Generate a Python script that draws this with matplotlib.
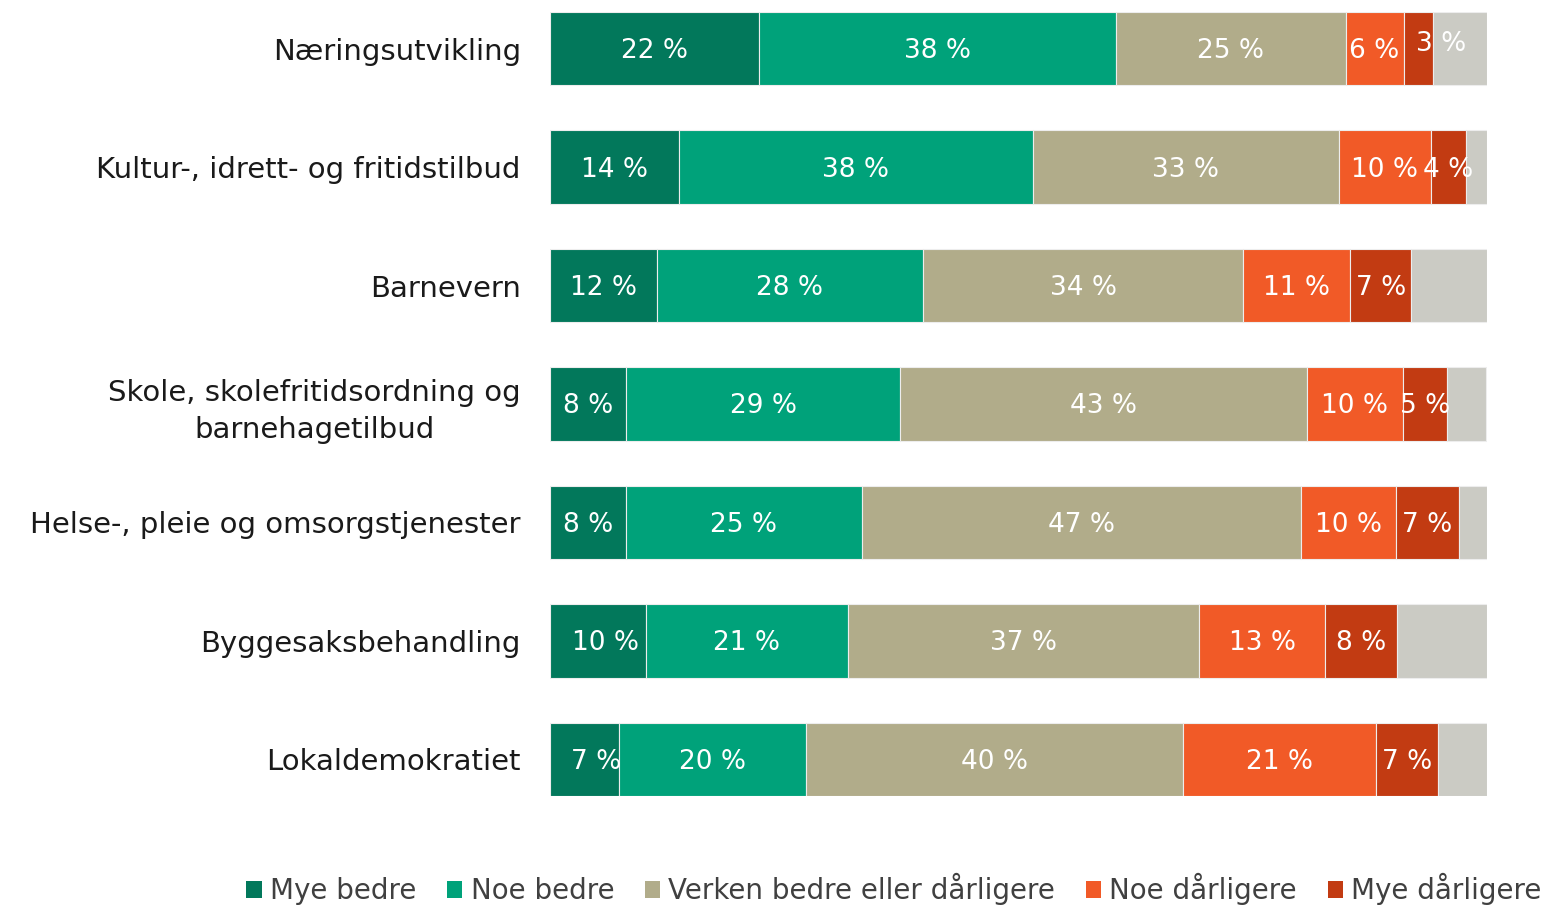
import matplotlib.pyplot as plt
from matplotlib.patches import Patch
import numpy as np

# Data (share of respondents, %)
CATEGORIES = [
    "Næringsutvikling",
    "Kultur-, idrett- og fritidstilbud",
    "Barnevern",
    "Skole, skolefritidsordning og\nbarnehagetilbud",
    "Helse-, pleie og omsorgstjenester",
    "Byggesaksbehandling",
    "Lokaldemokratiet",
]
SERIES = ["Mye bedre", "Noe bedre", "Verken bedre eller dårligere",
          "Noe dårligere", "Mye dårligere", "Vet ikke"]

mye_bedre = [22.3, 13.8, 11.4, 8.1, 8.1, 10.2, 7.4]
noe_bedre = [38.1, 37.7, 28.4, 29.3, 25.2, 21.6, 19.9]
verken = [24.5, 32.7, 34.2, 43.4, 46.9, 37.5, 40.3]
noe_darligere = [6.2, 9.8, 11.4, 10.2, 10.1, 13.4, 20.6]
mye_darligere = [3.1, 3.8, 6.5, 4.7, 6.7, 7.7, 6.6]
vet_ikke = [5.8, 2.2, 8.1, 4.2, 3.0, 9.6, 5.2]

# Label text shown in each segment (None = no label)
LABELS = [
    ["22 %", "14 %", "12 %", "8 %", "8 %", "10 %", "7 %"],
    ["38 %", "38 %", "28 %", "29 %", "25 %", "21 %", "20 %"],
    ["25 %", "33 %", "34 %", "43 %", "47 %", "37 %", "40 %"],
    ["6 %", "10 %", "11 %", "10 %", "10 %", "13 %", "21 %"],
    ["3 %", "4 %", "7 %", "5 %", "7 %", "8 %", "7 %"],
    None,
]

COLORS = ["#02785B", "#00A27A", "#B1AC8A", "#F15A27", "#C23B12", "#CBCBC4"]

FONT = "DejaVu Sans"
CAT_FS = 21
BAR_FS = 19
LEG_FS = 20

# a few labels were nudged by hand in the original (series, row): (dx, dy)
NUDGE = {(4, 0): (2.5, -0.06), (0, 5): (0.8, 0.0), (0, 6): (1.2, 0.0)}

values = [mye_bedre, noe_bedre, verken, noe_darligere, mye_darligere, vet_ikke]

fig = plt.figure(figsize=(15.5, 9.06), dpi=100)
ax = fig.add_axes([550 / 1550, 110 / 906, 937 / 1550, 784 / 906])

y = np.arange(len(CATEGORIES))
left = np.zeros(len(CATEGORIES))
bar_h = 0.62

for i, (vals, color) in enumerate(zip(values, COLORS)):
    vals = np.array(vals)
    ax.barh(y, vals, left=left, height=bar_h, color=color,
            edgecolor="#EDEDED", linewidth=0.8)
    if LABELS[i] is not None:
        for j, (yy, l, v, txt) in enumerate(zip(y, left, vals, LABELS[i])):
            dx, dy = NUDGE.get((i, j), (0, 0))
            ax.text(l + v / 2 + dx, yy + 0.02 + dy, txt, ha="center", va="center",
                    color="white", fontsize=BAR_FS, family=FONT)
    left += vals

ax.set_xlim(0, 100)
ax.set_ylim(len(CATEGORIES) - 1 + bar_h / 2, -bar_h / 2)
ax.set_yticks(y)
ax.set_yticklabels(CATEGORIES, fontsize=CAT_FS, family=FONT, color="#1A1A1A",
                   multialignment="center", linespacing=1.4)
ax.tick_params(axis="y", length=0, pad=21)
ax.set_xticks([])
for s in ax.spines.values():
    s.set_visible(False)

handles = [Patch(facecolor=c) for c in COLORS[:5]]
fig.legend(handles, SERIES[:5], loc="center", bbox_to_anchor=(894 / 1550, 1 - 889 / 906),
           ncol=5, frameon=False, prop={"family": FONT, "size": LEG_FS},
           handlelength=0.55, handleheight=0.55, handletextpad=0.3, columnspacing=1.1,
           labelcolor="#404040")

fig.savefig("out.png", dpi=100)
